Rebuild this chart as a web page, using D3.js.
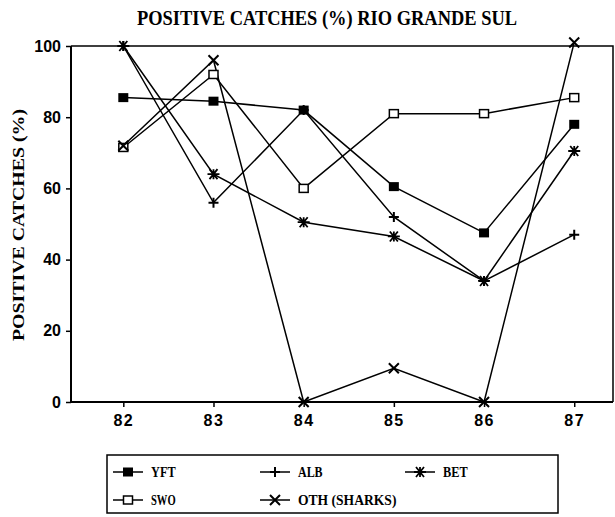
<!DOCTYPE html>
<html>
<head>
<meta charset="utf-8">
<script src="https://cdn.jsdelivr.net/npm/d3@7"></script>
<style>
  body { margin: 0; background: #fff; }
  svg { display: block; }
</style>
</head>
<body>
<svg id="chart"></svg>
<script>
const years = [82, 83, 84, 85, 86, 87];
const yTicks = [0, 20, 40, 60, 80, 100];

const yft = [85.5, 84.5, 82, 60.5, 47.5, 78];
const alb = [100, 56, 82, 52, 34, 47];
const bet = [100, 64, 50.5, 46.5, 34, 70.5];
const swo = [71.5, 92, 60, 81, 81, 85.5];
const oth = [72, 96, 0, 9.5, 0, 101];

const series = [
  { name: 'YFT', values: yft, marker: 'filled' },
  { name: 'ALB', values: alb, marker: 'plus' },
  { name: 'BET', values: bet, marker: 'star' },
  { name: 'SWO', values: swo, marker: 'open' },
  { name: 'OTH (SHARKS)', values: oth, marker: 'cross' }
];

const width = 615, height = 517;
const svg = d3.select('#chart').attr('width', width).attr('height', height);

const x = d3.scaleLinear().domain([81.42, 87.43]).range([71, 613]);
const y = d3.scaleLinear().domain([0, 100]).range([402, 46]);

const serif = "'Liberation Serif', 'DejaVu Serif', serif";
const sans = "'Liberation Sans', Arial, sans-serif";

// title
svg.append('text')
  .attr('x', 327).attr('y', 25)
  .attr('text-anchor', 'middle')
  .attr('font-family', serif).attr('font-weight', 'bold')
  .attr('font-size', 21)
  .attr('textLength', 380).attr('lengthAdjust', 'spacingAndGlyphs')
  .text('POSITIVE CATCHES (%)   RIO GRANDE SUL');

// y label
svg.append('text')
  .attr('transform', 'translate(24,225) rotate(-90)')
  .attr('text-anchor', 'middle')
  .attr('font-family', serif).attr('font-weight', 'bold')
  .attr('font-size', 16)
  .attr('textLength', 232).attr('lengthAdjust', 'spacingAndGlyphs')
  .text('POSITIVE CATCHES (%)');

// frame top/right
svg.append('path')
  .attr('d', `M${x.range()[0]},${y(100)}H${x.range()[1]}V${y(0)}`)
  .attr('fill', 'none').attr('stroke', '#000').attr('stroke-width', 1.5);

// axes
const yAxis = svg.append('g')
  .attr('transform', `translate(${x.range()[0]},0)`)
  .call(d3.axisLeft(y).tickValues(yTicks).tickSize(5).tickPadding(5));
yAxis.select('.domain').attr('stroke-width', 2).attr('d', `M0,${y(100)}V${y(0)}`);

const xAxis = svg.append('g')
  .attr('transform', `translate(0,${y(0)})`)
  .call(d3.axisBottom(x).tickValues(years).tickSize(5).tickPadding(8).tickFormat(d3.format('d')));
xAxis.select('.domain').attr('stroke-width', 2).attr('d', `M${x.range()[0]},0H${x.range()[1]}`);

svg.selectAll('.tick text')
  .attr('font-family', sans).attr('font-size', 16).attr('font-weight', 'bold')
  .attr('fill', '#000');
xAxis.selectAll('.tick text').attr('letter-spacing', 1.5);
svg.selectAll('.tick line').attr('stroke-width', 1.5);

// markers
function drawMarker(g, type, cx, cy) {
  if (type === 'filled') {
    g.append('rect').attr('x', cx - 5).attr('y', cy - 4.5).attr('width', 10).attr('height', 9).attr('fill', '#000');
  } else if (type === 'open') {
    g.append('rect').attr('x', cx - 4.5).attr('y', cy - 4).attr('width', 9).attr('height', 8)
      .attr('fill', '#fff').attr('stroke', '#000').attr('stroke-width', 1.5);
  } else if (type === 'plus') {
    g.append('path').attr('d', `M${cx - 5},${cy}H${cx + 5}M${cx},${cy - 5}V${cy + 5}`)
      .attr('stroke', '#000').attr('stroke-width', 2);
  } else if (type === 'star') {
    g.append('path').attr('d', `M${cx - 6},${cy}H${cx + 6}M${cx - 4},${cy - 5}L${cx + 4},${cy + 5}M${cx + 4},${cy - 5}L${cx - 4},${cy + 5}M${cx},${cy - 5}V${cy + 5}`)
      .attr('stroke', '#000').attr('stroke-width', 1.8);
  } else if (type === 'cross') {
    g.append('path').attr('d', `M${cx - 5},${cy - 5}L${cx + 5},${cy + 5}M${cx + 5},${cy - 5}L${cx - 5},${cy + 5}`)
      .attr('stroke', '#000').attr('stroke-width', 2);
  }
}

const line = d3.line().x((d, i) => x(years[i])).y(d => y(d));

series.forEach(s => {
  svg.append('path')
    .datum(s.values)
    .attr('d', line)
    .attr('fill', 'none').attr('stroke', '#000').attr('stroke-width', 1.5);
});
series.forEach(s => {
  const g = svg.append('g');
  s.values.forEach((v, i) => drawMarker(g, s.marker, x(years[i]), y(v)));
});

// legend
const legend = svg.append('g');
legend.append('rect')
  .attr('x', 107).attr('y', 455).attr('width', 451).attr('height', 58)
  .attr('fill', 'none').attr('stroke', '#000').attr('stroke-width', 1.5);

const legendPos = [
  [113, 472], [260, 472], [405, 472],
  [113, 500], [260, 500]
];
series.forEach((s, i) => {
  const [lx, ly] = legendPos[i];
  const g = legend.append('g');
  g.append('line').attr('x1', lx).attr('x2', lx + 30).attr('y1', ly).attr('y2', ly)
    .attr('stroke', '#000').attr('stroke-width', 1.5);
  drawMarker(g, s.marker, lx + 15, ly);
  g.append('text')
    .attr('x', lx + 38).attr('y', ly + 5)
    .attr('font-family', serif).attr('font-weight', 'bold').attr('font-size', 14)
    .attr('textLength', s.name.length * 8.2).attr('lengthAdjust', 'spacingAndGlyphs')
    .text(s.name);
});
</script>
</body>
</html>
